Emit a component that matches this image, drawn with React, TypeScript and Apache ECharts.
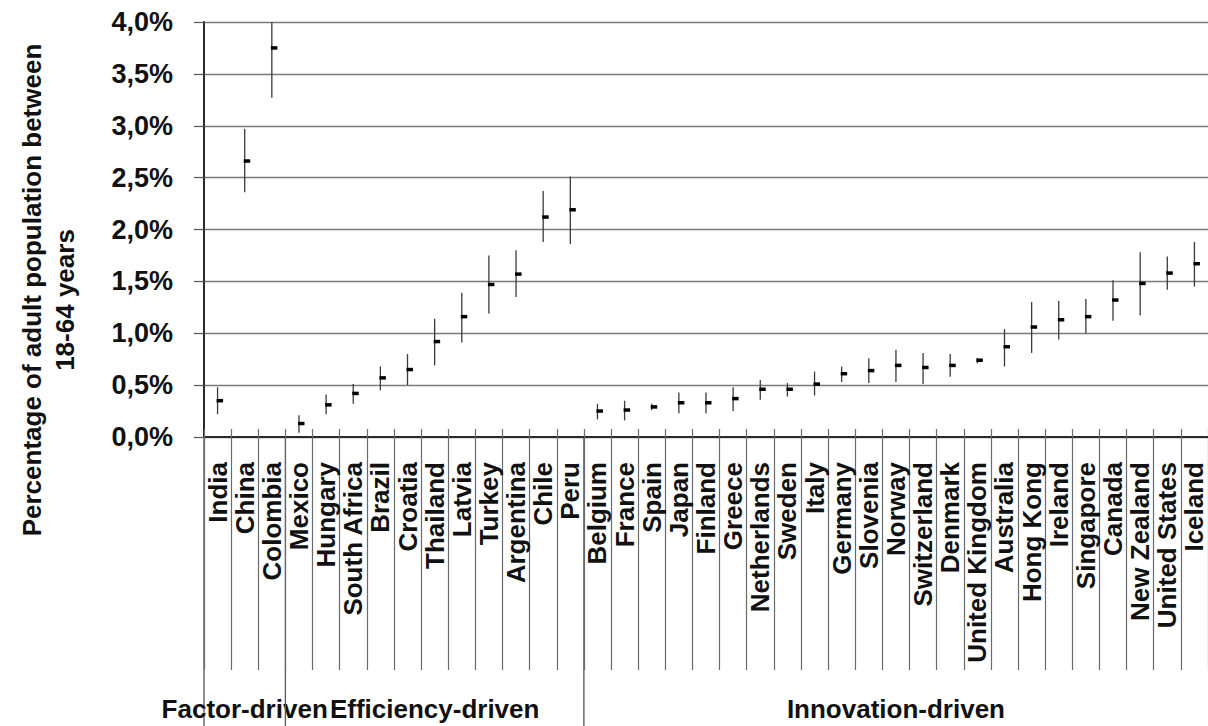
import React, { useEffect, useRef } from "react";
import * as echarts from "echarts";

// Countries in display order, grouped by economic development stage
const countries = [
  "India", "China", "Colombia",
  "Mexico", "Hungary", "South Africa", "Brazil", "Croatia", "Thailand", "Latvia",
  "Turkey", "Argentina", "Chile", "Peru",
  "Belgium", "France", "Spain", "Japan", "Finland", "Greece", "Netherlands", "Sweden",
  "Italy", "Germany", "Slovenia", "Norway", "Switzerland", "Denmark", "United Kingdom",
  "Australia", "Hong Kong", "Ireland", "Singapore", "Canada", "New Zealand",
  "United States", "Iceland",
];

const groupNames = ["Factor-driven", "Efficiency-driven", "Innovation-driven"];
const groupSizes = [3, 11, 23];

// Point estimate (%) with lower and upper confidence bounds (%)
const estimates = [
  0.35, 2.66, 3.75,
  0.13, 0.31, 0.42, 0.57, 0.65, 0.92, 1.16, 1.47, 1.57, 2.12, 2.19,
  0.25, 0.26, 0.29, 0.33, 0.33, 0.37, 0.46, 0.46, 0.51, 0.61, 0.64, 0.69, 0.67,
  0.69, 0.74, 0.87, 1.06, 1.13, 1.16, 1.32, 1.48, 1.58, 1.67,
];
const lowerBounds = [
  0.22, 2.36, 3.27,
  0.04, 0.22, 0.32, 0.45, 0.50, 0.69, 0.91, 1.19, 1.35, 1.88, 1.86,
  0.17, 0.16, 0.26, 0.23, 0.23, 0.25, 0.36, 0.39, 0.40, 0.53, 0.52, 0.53, 0.51,
  0.58, 0.71, 0.68, 0.81, 0.94, 1.00, 1.12, 1.17, 1.42, 1.45,
];
const upperBounds = [
  0.48, 2.97, 4.0,
  0.21, 0.41, 0.51, 0.68, 0.80, 1.14, 1.39, 1.75, 1.80, 2.37, 2.51,
  0.32, 0.35, 0.32, 0.43, 0.43, 0.48, 0.55, 0.52, 0.63, 0.68, 0.76, 0.84, 0.81,
  0.80, 0.76, 1.04, 1.30, 1.31, 1.33, 1.51, 1.78, 1.74, 1.88,
];

const yTicks = { min: 0, max: 4, interval: 0.5 };

const FONT = "'Liberation Sans', Arial, Helvetica, sans-serif";

export default function App() {
  const ref = useRef<HTMLDivElement>(null);

  useEffect(() => {
    if (!ref.current) return;
    const chart = echarts.init(ref.current, null, { renderer: "svg" });

    const data = countries.map((_, i) => [i, estimates[i], lowerBounds[i], upperBounds[i]]);

    chart.setOption({
      animation: false,
      backgroundColor: "#ffffff",
      grid: { left: 204, right: -4, top: 22, bottom: 289, containLabel: false },
      xAxis: [
        {
          type: "category",
          data: countries,
          boundaryGap: true,
          axisLine: { show: true, lineStyle: { color: "#2a2a2a", width: 2 } },
          axisTick: {
            show: true,
            interval: 0,
            length: 233,
            lineStyle: { color: "#6a6a6a", width: 1.2 },
          },
          axisLabel: {
            interval: 0,
            rotate: 90,
            margin: 25,
            color: "#111",
            fontFamily: FONT,
            fontWeight: "bold",
            fontSize: 26,
          },
          splitLine: { show: false },
        },
        {
          type: "category",
          data: countries,
          position: "bottom",
          boundaryGap: true,
          axisLine: { show: false },
          axisTick: {
            show: true,
            inside: true,
            interval: 0,
            length: 8,
            lineStyle: { color: "#6a6a6a", width: 1.2 },
          },
          axisLabel: { show: false },
          splitLine: { show: false },
        },
      ],
      yAxis: {
        type: "value",
        min: yTicks.min,
        max: yTicks.max,
        interval: yTicks.interval,
        axisLine: { show: true, lineStyle: { color: "#2a2a2a", width: 2 } },
        axisTick: { show: true, length: 10, lineStyle: { color: "#555", width: 1.2 } },
        axisLabel: {
          margin: 31,
          color: "#111",
          fontFamily: FONT,
          fontWeight: "bold",
          fontSize: 27,
          formatter: (v: number) => v.toFixed(1).replace(".", ",") + "%",
        },
        splitLine: { show: true, lineStyle: { color: "#7a7a7a", width: 1.3 } },
      },
      series: [
        {
          type: "custom",
          data,
          clip: false,
          renderItem: (params: any, api: any) => {
            const idx = api.value(0);
            const mid = api.coord([idx, api.value(1)]);
            const lo = api.coord([idx, api.value(2)]);
            const hi = api.coord([idx, api.value(3)]);
            return {
              type: "group",
              children: [
                {
                  type: "line",
                  shape: { x1: mid[0], y1: lo[1], x2: mid[0], y2: hi[1] },
                  style: { stroke: "#3a3a3a", lineWidth: 1.3 },
                },
                {
                  type: "rect",
                  shape: { x: mid[0] - 1, y: mid[1] - 1.75, width: 6.5, height: 3.5 },
                  style: { fill: "#000" },
                },
              ],
            };
          },
        },
      ],
    });

    // Group separators and group names below the country labels
    const c0 = chart.convertToPixel({ xAxisIndex: 0 }, 0) as number;
    const c1 = chart.convertToPixel({ xAxisIndex: 0 }, 1) as number;
    const band = c1 - c0;
    const axisY = chart.convertToPixel({ yAxisIndex: 0 }, 0) as number;
    const edgeX = (i: number) => (chart.convertToPixel({ xAxisIndex: 0 }, 0) as number) + (i - 0.5) * band;

    const graphics: any[] = [];
    let start = 0;
    groupSizes.forEach((size, g) => {
      const left = edgeX(start);
      const right = edgeX(start + size);
      graphics.push({
        type: "line",
        shape: { x1: left, y1: axisY, x2: left, y2: 726 },
        style: { stroke: "#555", lineWidth: 1.3 },
        silent: true,
      });
      graphics.push({
        type: "text",
        x: (left + right) / 2,
        y: 709,
        style: {
          text: groupNames[g],
          fill: "#111",
          font: `bold 26px ${FONT}`,
          align: "center",
          verticalAlign: "middle",
        },
        silent: true,
      });
      start += size;
    });

    // Two-line y-axis title
    graphics.push({
      type: "text",
      x: 32,
      y: 290,
      rotation: Math.PI / 2,
      style: {
        text: "Percentage of adult population between",
        fill: "#111",
        font: `bold 26px ${FONT}`,
        align: "center",
        verticalAlign: "middle",
      },
      silent: true,
    });
    graphics.push({
      type: "text",
      x: 65,
      y: 300,
      rotation: Math.PI / 2,
      style: {
        text: "18-64 years",
        fill: "#111",
        font: `bold 26px ${FONT}`,
        align: "center",
        verticalAlign: "middle",
      },
      silent: true,
    });

    chart.setOption({ graphic: graphics });

    return () => chart.dispose();
  }, []);

  return (
    <div
      ref={ref}
      style={{ position: "fixed", left: 0, top: 0, width: 1208, height: 726, background: "#fff" }}
    />
  );
}
